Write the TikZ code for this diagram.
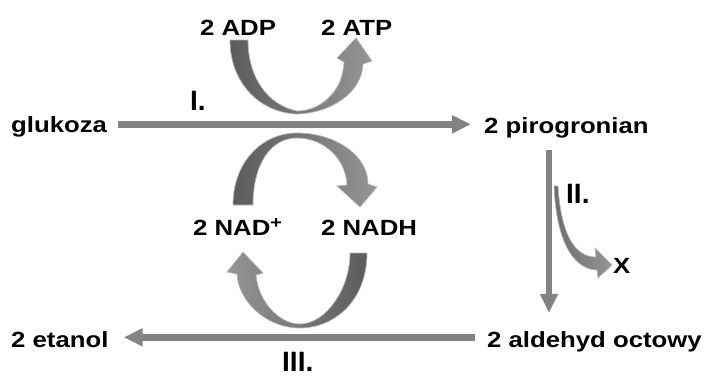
\documentclass[tikz,border=0pt]{standalone}
\usepackage{fontspec}
\usepackage{graphicx}
\setmainfont{Liberation Sans}
\usetikzlibrary{arrows.meta,calc}
\definecolor{arr}{HTML}{838383}
\definecolor{dk}{HTML}{5C5C5C}
\definecolor{lt}{HTML}{959595}
\definecolor{edgec}{HTML}{B8B8B8}
\newcommand{\sx}[1]{\scalebox{1.17}[1]{#1}}
\begin{document}
\begin{tikzpicture}[x=1pt,y=-1pt,
  lab/.style={anchor=base west, inner sep=0pt, font=\fontsize{22}{26}\selectfont\bfseries},
  num/.style={anchor=base west, inner sep=0pt, font=\fontsize{28}{32}\selectfont\bfseries},
  flow/.style={draw=arr, line width=6.5pt, -{Triangle[length=19pt,width=17pt]}},
  curv/.style={draw=edgec, line width=0.7pt}]
\useasboundingbox (0,0) rectangle (708,378);

% labels
\node[lab] (gluk)  at (11,132)  {\sx{glukoza}};
\node[lab] (pirog) at (484,133) {\sx{2 pirogronian}};
\node[lab] (ald)   at (487,347) {\sx{2 aldehyd octowy}};
\node[lab] (etan)  at (11,347)  {\sx{2 etanol}};
\node[lab] (adp)   at (200,35)  {\sx{2 ADP}};
\node[lab] (atp)   at (321,35)  {\sx{2 ATP}};
\node[lab] (nad)   at (193,235) {\sx{2 NAD\raisebox{7pt}{\fontsize{17}{20}\selectfont +}}};
\node[lab] (nadh)  at (321,235) {\sx{2 NADH}};
\node[lab] (x)     at (613,273) {\sx{X}};
\node[num] (r1)    at (190,110) {I.};
\node[num] (r2)    at (566,203) {II.};
\node[num] (r3)    at (282,371) {III.};

% straight arrows
\draw[flow] ($(gluk.east)+(11,-2)$) -- ($(gluk.east -| pirog.west)+(-13,-2)$);
\coordinate (v1) at ($(pirog.south west)+(65,12)$);
\draw[flow] (v1) -- ($(v1 |- ald.north)+(0,-18)$);
\draw[flow] ($(ald.west)+(-12,-4)$) -- ($(ald.west -| etan.east)+(15,-4)$);

% ADP -> ATP
\path[curv, left color=dk, right color=lt]
  (230,40) .. controls (230,85) and (262,113) .. (297,114)
  .. controls (332,113) and (362,92) .. (363,64)
  -- (372,61) -- (356,38) -- (337,58) -- (344,62)
  .. controls (343,92) and (320,111) .. (297,111)
  .. controls (268,105) and (248,78) .. (248,40) -- cycle;

% NAD+ -> NADH
\path[curv, left color=dk, right color=lt]
  (233,205) .. controls (233,162) and (262,133) .. (297,133)
  .. controls (335,133) and (368,155) .. (368,184)
  -- (377,187) -- (360,207) -- (337,186) -- (347,185)
  .. controls (346,160) and (325,138) .. (297,138)
  .. controls (270,138) and (253,165) .. (253,205) -- cycle;

% NADH -> NAD+
\path[curv, left color=lt, right color=dk]
  (367,253) .. controls (367,300) and (335,328) .. (300,328)
  .. controls (265,328) and (238,300) .. (237,274)
  -- (227,272) -- (243,252) -- (263,273) -- (256,275)
  .. controls (258,300) and (278,324) .. (300,324)
  .. controls (325,324) and (350,290) .. (350,253) -- cycle;

% II -> X
\path[curv, left color=dk!70!lt, right color=lt]
  (554,186) .. controls (556,235) and (570,269) .. (597,270)
  -- (598,278) -- (612,265) -- (595,248) -- (596,257)
  .. controls (575,257) and (561,235) .. (558,186) -- cycle;
\end{tikzpicture}
\end{document}
